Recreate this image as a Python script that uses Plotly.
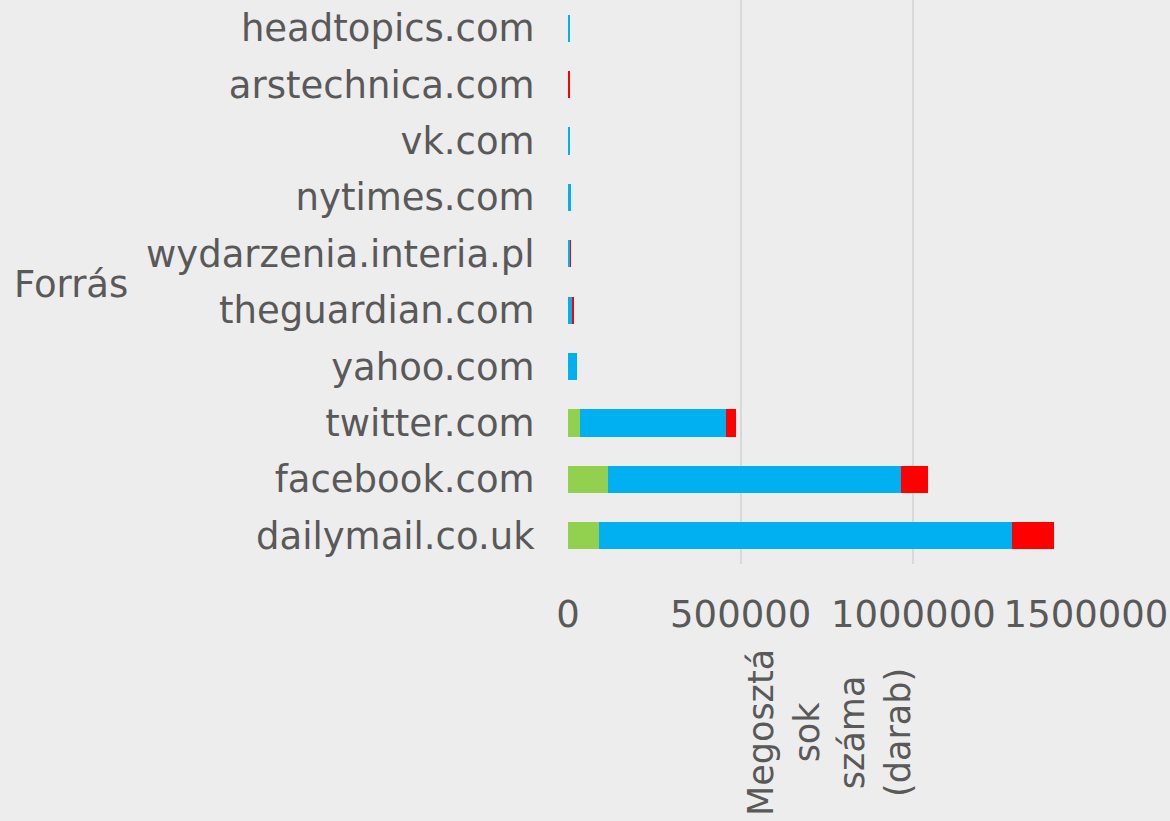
import plotly.graph_objects as go

categories = ["dailymail.co.uk", "facebook.com", "twitter.com", "yahoo.com",
              "theguardian.com", "wydarzenia.interia.pl", "nytimes.com",
              "vk.com", "arstechnica.com", "headtopics.com"]
green_vals = [90000, 116000, 36000, 0, 0, 0, 0, 0, 0, 0]
blue_vals = [1197000, 849000, 422000, 27000, 13000, 7000, 7500, 7000, 2500, 5000]
red_vals = [119000, 77000, 28000, 0, 2500, 500, 0, 0, 1000, 0]
x_ticks = [0, 500000, 1000000, 1500000]

FONT = "DejaVu Sans"
GRAY = "#595959"
FS = 37

fig = go.Figure()
for vals, col in [(green_vals, "#92D050"), (blue_vals, "#00B0F0"), (red_vals, "#FF0000")]:
    fig.add_trace(go.Bar(y=categories, x=vals, orientation="h",
                         marker=dict(color=col, line=dict(width=0))))

fig.update_layout(
    width=1170, height=821,
    barmode="stack", bargap=0.52, showlegend=False,
    paper_bgcolor="#EDEDED", plot_bgcolor="#EDEDED",
    margin=dict(l=568, r=84, t=0, b=257),
    font=dict(family=FONT, color=GRAY, size=FS),
    xaxis=dict(range=[0, 1500000], tickvals=x_ticks, tickformat="d",
               showgrid=True, gridcolor="#D9D9D9", gridwidth=2,
               zeroline=False, showline=False,
               ticks="outside", ticklen=18, tickcolor="rgba(0,0,0,0)",
               tickfont=dict(size=FS, color=GRAY)),
    yaxis=dict(categoryorder="array", categoryarray=categories,
               showgrid=False, zeroline=False, showline=False,
               ticks="outside", ticklen=25, tickcolor="rgba(0,0,0,0)",
               tickfont=dict(size=FS, color=GRAY)),
)

fig.add_annotation(text="Forrás", xref="paper", yref="paper", x=-1.0734, y=0.495,
                   xanchor="left", yanchor="middle", showarrow=False,
                   font=dict(size=FS, color=GRAY, family=FONT))
fig.add_annotation(text="Megosztá<br>sok<br>száma<br>(darab)", xref="paper", yref="paper",
                   x=0.5058, y=-0.2996, xanchor="center", yanchor="middle", textangle=-90,
                   showarrow=False, align="center",
                   font=dict(size=35, color=GRAY, family=FONT))

fig.write_html("out.html", config={"displayModeBar": False},
               post_script="document.body.style.margin='0';document.body.style.overflow='hidden';")
